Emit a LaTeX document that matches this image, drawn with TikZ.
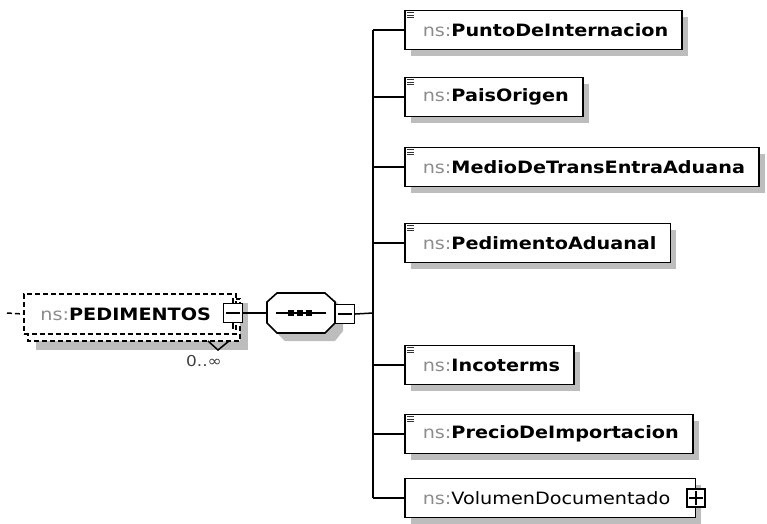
\documentclass[tikz,border=0pt]{standalone}
\usepackage{fontspec}
\setmainfont{DejaVu Sans}[FakeStretch=1.13]
\usetikzlibrary{shadows}
\definecolor{nsgray}{HTML}{8C8C8C}
\definecolor{shadowgray}{HTML}{BDBDBD}
\newcommand\nsname[1]{{\color{nsgray}ns:}\textbf{#1}}
\newcommand\elt[1]{\hspace*{18pt}\nsname{#1}\hspace*{14pt}}
\begin{document}
\begin{tikzpicture}[x=1pt, y=-1pt, font=\fontsize{17}{20}\selectfont, line join=miter,
	elem/.style={draw, line width=1.6pt, fill=white, anchor=west, minimum height=39pt, inner sep=0pt, drop shadow={shadow xshift=6pt, shadow yshift=-6pt, fill=shadowgray, opacity=1}},
	tog/.style={draw, line width=1.4pt, fill=white, minimum size=19pt, inner sep=0pt},
	wire/.style={line width=1.5pt},
	dashline/.style={dash pattern=on 5pt off 3pt},
	bars/.style={line width=1pt, black!80}]
	\useasboundingbox (0,0) rectangle (767,523);
	% root element, stacked because it repeats
	\fill[shadowgray] (36,303) rectangle (248,350);
	\draw[wire, dashline, fill=white] (28,299) rectangle (240,341);
	\node[draw, wire, dashline, fill=white, anchor=west, minimum width=212pt, minimum height=40pt, inner sep=0pt] (root) at (23,314) {\nsname{PEDIMENTOS}\hspace*{8pt}};
	\node[tog] (rootmin) at (233,313) {};
	\draw[wire] ([xshift=3pt]rootmin.west) -- ([xshift=-3pt]rootmin.east);
	\draw[wire] (rootmin.north) -- ++(0,-5);
	\draw[wire] (rootmin.south) -- ++(0,6);
	\draw[wire] (208,341) -- (218,350) -- (229,341);
	\node[font=\fontsize{15}{17}\selectfont, text=black!75] (occurs) at (204,361) {0..∞};
	\coordinate (in) at (7,313);
	\draw[wire, dashline] (in) -- (root.west);
	% sequence
	\node[minimum width=68pt, minimum height=40pt, inner sep=0pt] (seq) at (301,313) {};
	\fill[shadowgray] (285,300) -- (335,300) -- (343,310) -- (343,331) -- (335,341) -- (285,341) -- (275,331) -- (275,310) -- cycle;
	\draw[line width=1.6pt, fill=white] (277,293) -- (325,293) -- (335,302) -- (335,323) -- (325,333) -- (277,333) -- (267,323) -- (267,302) -- cycle;
	\draw[wire] (276,313) -- (326,313);
	\foreach \x in {291,300,309}
		\fill (\x-2.8,310.2) rectangle (\x+2.8,315.8);
	\draw[wire] (rootmin.east) -- (seq.west);
	\node[tog] (seqmin) at (345,314) {};
	\draw[wire] ([xshift=3pt]seqmin.west) -- ([xshift=-3pt]seqmin.east);
	\coordinate (bus) at (373,313);
	\draw[wire] (seqmin.east) -- (bus);
	% children
	\node[elem] (punto) at (404,30) {\elt{PuntoDeInternacion}};
	\node[elem] (pais) at (404,97) {\elt{PaisOrigen}};
	\node[elem] (medio) at (404,167) {\elt{MedioDeTransEntraAduana}};
	\node[elem] (aduanal) at (404,243) {\elt{PedimentoAduanal}};
	\node[elem] (inco) at (404,365) {\elt{Incoterms}};
	\node[elem] (precio) at (404,434) {\elt{PrecioDeImportacion}};
	\node[elem] (volumen) at (404,498) {\hspace*{18pt}{\color{nsgray}ns:}VolumenDocumentado\hspace*{25pt}};
	\node[tog, minimum size=18pt] (volplus) at (volumen.east) {};
	\draw[wire] ([xshift=3pt]volplus.west) -- ([xshift=-3pt]volplus.east);
	\draw[wire] ([yshift=-3pt]volplus.north) -- ([yshift=3pt]volplus.south);
	\foreach \n in {punto,pais,medio,aduanal,inco,precio}
		\draw[bars] ([shift={(3pt,-3pt)}]\n.north west) -- +(7pt,0pt)
			([shift={(3pt,-5.5pt)}]\n.north west) -- +(7pt,0pt)
			([shift={(3pt,-8pt)}]\n.north west) -- +(7pt,0pt);
	\draw[wire] (bus |- punto.west) -- (bus |- volumen.west);
	\foreach \n in {punto,pais,medio,aduanal,inco,precio,volumen}
		\draw[wire] (bus |- \n.west) -- (\n.west);
\end{tikzpicture}
\end{document}
